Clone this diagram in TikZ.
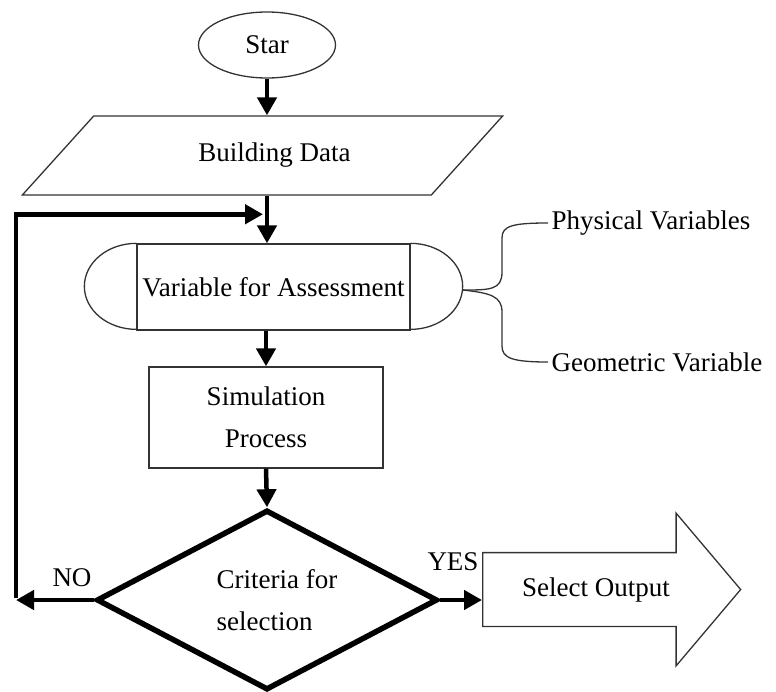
\documentclass[tikz,border=0pt]{standalone}
\usepackage{fontspec}
\setmainfont{Liberation Serif}
\usetikzlibrary{arrows.meta,shapes.geometric,shapes.arrows,calc}

\begin{document}
\begin{tikzpicture}[x=1pt,y=-1pt,>={Triangle[length=18pt,width=19pt]},line join=miter,
  thin/.style={draw=black!80,line width=1.3pt},
  flow/.style={->,line width=4.5pt},
  every node/.style={font=\fontsize{27pt}{42pt}\selectfont,text=black}]

\useasboundingbox (0,0) rectangle (776,691);

% Node: start
\node[thin,ellipse,minimum width=137pt,minimum height=66pt,inner sep=0pt] (start) at (267,45) {Star};

% Node: data
\node[thin,trapezium,trapezium left angle=33.4,trapezium right angle=146.6,trapezium stretches,
  minimum width=481pt,minimum height=79pt,inner sep=0pt] (data) at (262.5,155.5) {\hspace{24pt}Building Data};

% Node: var
\node[thin,rectangle,minimum width=273pt,minimum height=86pt,inner sep=0pt] (var) at (273.5,287) {Variable for Assessment};
\draw[thin] (var.north west) arc (90:270:52pt and 43pt);
\draw[thin] (var.north east) arc (90:-90:52pt and 43pt);

% Node: sim
\node[thin,rectangle,minimum width=234pt,minimum height=101pt,align=center] (sim) at (266,417.5) {Simulation\\Process};

% Node: crit
\node[draw,diamond,aspect=1.9,line width=5.5pt,minimum width=341pt,minimum height=180pt,inner sep=0pt,align=left] (crit) at (267,600) {\hspace{20pt}Criteria for\\\hspace{20pt}selection};

% Node: out
\node[thin,single arrow,single arrow head extend=39.5pt,single arrow tip angle=99.6,
  minimum height=258pt,inner xsep=0pt,inner ysep=24pt,anchor=tail] (out) at (482,589.5) {Select Output};

% Node: phys, geo
\node[anchor=west] (phys) at (548,223) {Physical Variables};
\node[anchor=west] (geo) at (548,362) {Geometric Variable};

% Labels
\node (yes) at (453,562) {YES};
\node (no) at (72,578) {NO};

\coordinate (join) at ($(start |- data.south)!0.39!(start |- var.north)$);
\coordinate (back) at (16,600);
\coordinate (br) at ($(var.east)+(52,3)$);

% Edge: start -> data
\draw[flow] (start) -- (start |- data.north);

% Edge: data -> var
\draw[flow] (start |- data.south) -- (start |- var.north);

% Edge: var -> sim
\draw[flow] (var.south -| sim) -- (sim.north);

% Edge: sim -> crit
\draw[flow] (sim.south) -- (crit.north);

% Edge: crit -> out
\draw[flow] (crit.east) -- (crit.east -| out.tail);

% Edge: crit -> var (loop back)
\draw[flow] (crit.west) -- (back);
\draw[flow] ([yshift=2pt]back) |- ([xshift=-4pt]join);

% Brace: var -> phys, geo
\draw[thin] (br) .. controls (490,290) and (502,290) .. (502,272) -- (502,238) .. controls (502,226) and (512,223) .. (phys.west);
\draw[thin] (br) .. controls (490,293) and (502,296) .. (502,312) -- (502,346) .. controls (502,358) and (512,362) .. (geo.west);

\end{tikzpicture}
\end{document}
